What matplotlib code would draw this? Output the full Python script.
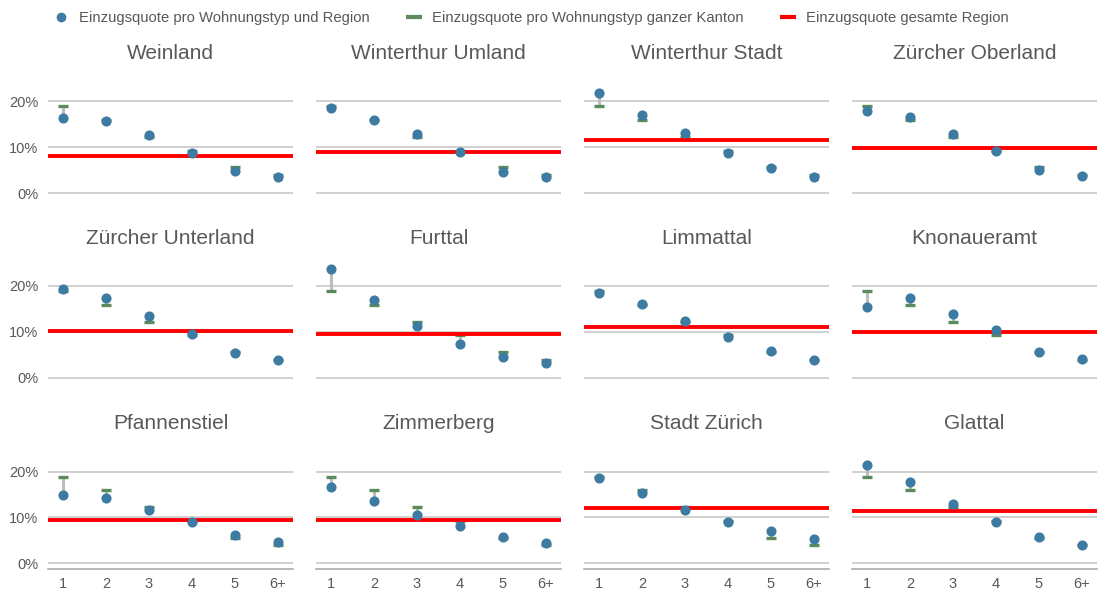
import numpy as np
import matplotlib.pyplot as plt
from matplotlib.lines import Line2D

plt.rcParams['font.family'] = ['Liberation Sans', 'DejaVu Sans']

wohnungstyp = ["1", "2", "3", "4", "5", "6+"]

# Einzugsquote ganzer Kanton pro Wohnungstyp (%)
kanton = [18.9, 15.9, 12.2, 9.2, 5.6, 3.9]

regionen = ["Weinland", "Winterthur Umland", "Winterthur Stadt", "Zürcher Oberland",
            "Zürcher Unterland", "Furttal", "Limmattal", "Knonaueramt",
            "Pfannenstiel", "Zimmerberg", "Stadt Zürich", "Glattal"]

# Einzugsquote pro Wohnungstyp und Region (%)
weinland = [16.4, 15.8, 12.6, 8.8, 4.8, 3.5]
winterthur_umland = [18.5, 16.0, 12.8, 8.9, 4.5, 3.4]
winterthur_stadt = [21.8, 17.1, 13.1, 8.8, 5.5, 3.6]
zuercher_oberland = [17.9, 16.6, 12.8, 9.2, 5.1, 3.8]
zuercher_unterland = [19.3, 17.3, 13.4, 9.5, 5.3, 3.8]
furttal = [23.6, 16.9, 11.2, 7.4, 4.4, 3.2]
limmattal = [18.4, 16.1, 12.3, 8.8, 5.8, 3.8]
knonaueramt = [15.5, 17.4, 13.8, 10.4, 5.6, 4.0]
pfannenstiel = [14.9, 14.2, 11.6, 9.0, 6.2, 4.6]
zimmerberg = [16.6, 13.6, 10.6, 8.2, 5.8, 4.4]
stadt_zuerich = [18.5, 15.3, 11.6, 9.0, 7.0, 5.3]
glattal = [21.4, 17.7, 12.9, 9.1, 5.8, 4.0]

werte = [weinland, winterthur_umland, winterthur_stadt, zuercher_oberland,
         zuercher_unterland, furttal, limmattal, knonaueramt,
         pfannenstiel, zimmerberg, stadt_zuerich, glattal]

# Einzugsquote gesamte Region (%)
gesamt = [8.1, 8.9, 11.5, 9.9, 10.2, 9.6, 11.0, 9.9, 9.4, 9.4, 12.1, 11.3]

BLUE = "#3d7ba3"
GREEN = "#5b8a5b"
RED = "#ff0000"
TXT = "#595959"

fig = plt.figure(figsize=(11.01, 5.94), dpi=100)

x = np.arange(1, len(wohnungstyp) + 1)
lefts = [48, 316, 584, 852]
bottoms = [198.5, 383, 568.7]
W, H = 245, 120

for i, (name, vals, red) in enumerate(zip(regionen, werte, gesamt)):
    r, c = divmod(i, 4)
    ax = fig.add_axes([lefts[c] / 1101, (594 - bottoms[r]) / 594, W / 1101, H / 594])
    ax.set_xlim(0.65, 6.36)
    ax.set_ylim(-1.2, 25)

    for y in (0, 10, 20):
        ax.axhline(y, color="#c4c4c4", linewidth=1.1, zorder=0)

    # Verbindung Region <-> Kanton, dann Kantonswert, Regionsschnitt und Punkte
    ax.vlines(x, kanton, vals, color="#bdbdbd", linewidth=2.2, zorder=1)
    ax.plot(x, kanton, linestyle="none", marker="_", markersize=7.5,
            markeredgewidth=2.4, color=GREEN, zorder=2)
    ax.axhline(red, color=RED, linewidth=2.8, zorder=3)
    ax.plot(x, vals, linestyle="none", marker="o", markersize=7.3,
            color=BLUE, markeredgewidth=0, zorder=4)

    ax.set_title(name, fontsize=15, color=TXT, pad=14)
    for s in ax.spines.values():
        s.set_visible(False)
    ax.tick_params(length=0, labelsize=10.5, labelcolor=TXT)

    ax.set_yticks([0, 10, 20])
    if c == 0:
        ax.set_yticklabels(["0%", "10%", "20%"])
        ax.tick_params(axis="y", pad=7)
    else:
        ax.set_yticklabels([])

    ax.set_xticks(x)
    if r == 2:
        ax.spines["bottom"].set_visible(True)
        ax.spines["bottom"].set_color("#a6a6a6")
        ax.spines["bottom"].set_linewidth(1.1)
        ax.set_xticklabels(wohnungstyp)
        ax.tick_params(axis="x", pad=6)
    else:
        ax.set_xticklabels([])

handles = [
    Line2D([], [], linestyle="none", marker="o", markersize=7, color=BLUE, markeredgewidth=0),
    Line2D([], [], linestyle="none", marker="_", markersize=11, markeredgewidth=3, color=GREEN),
    Line2D([], [], linestyle="none", marker="_", markersize=11, markeredgewidth=3, color=RED),
]
labels = ["Einzugsquote pro Wohnungstyp und Region",
          "Einzugsquote pro Wohnungstyp ganzer Kanton",
          "Einzugsquote gesamte Region"]
fig.legend(handles, labels, loc="center", bbox_to_anchor=(0.482, 0.97), ncol=3,
           frameon=False, fontsize=10.7, labelcolor=TXT, handlelength=1.2,
           handletextpad=0.6, columnspacing=2.4)

fig.savefig("out.png", dpi=100)
